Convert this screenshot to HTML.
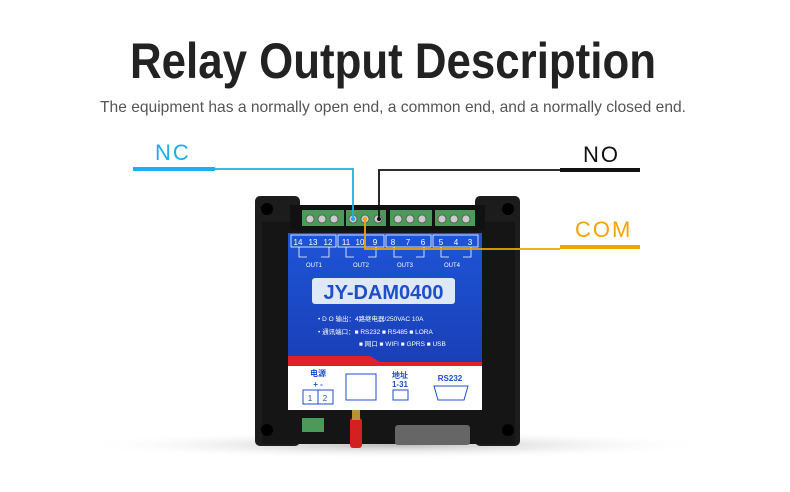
<!DOCTYPE html>
<html><head><meta charset="utf-8"><style>
html,body{margin:0;padding:0;background:#fff;width:790px;height:492px;overflow:hidden}
svg{display:block}
</style></head><body>
<svg width="790" height="492" viewBox="0 0 790 492" xmlns="http://www.w3.org/2000/svg" font-family="Liberation Sans, Noto Sans CJK SC, sans-serif">
<defs>
<radialGradient id="sh" cx="0.5" cy="0.5" r="0.5"><stop offset="0" stop-color="#bbb"/><stop offset="1" stop-color="#fff" stop-opacity="0"/></radialGradient>
<linearGradient id="bl" x1="0" y1="0" x2="0" y2="1"><stop offset="0" stop-color="#1e55d6"/><stop offset="1" stop-color="#1a3fb8"/></linearGradient>
</defs>
<text x="130" y="78" font-size="50" font-weight="bold" fill="#222" textLength="526" lengthAdjust="spacingAndGlyphs">Relay Output Description</text>
<text x="100" y="112" font-size="16" fill="#555" textLength="586" lengthAdjust="spacingAndGlyphs">The equipment has a normally open end, a common end, and a normally closed end.</text>

<ellipse cx="395" cy="445" rx="320" ry="14" fill="url(#sh)"/>
<!-- body -->
<rect x="255" y="196" width="45" height="250" rx="5" fill="#1c1c1c"/>
<rect x="475" y="196" width="45" height="250" rx="5" fill="#1c1c1c"/>
<rect x="262" y="222" width="253" height="222" fill="#151515"/>
<rect x="290" y="205" width="195" height="25" fill="#111"/>
<circle cx="267" cy="209" r="6" fill="#000"/><circle cx="508" cy="209" r="6" fill="#000"/>
<circle cx="267" cy="430" r="6" fill="#000"/><circle cx="508" cy="430" r="6" fill="#000"/>
<!-- terminal blocks -->
<g fill="#4a9a5a">
<rect x="302" y="210" width="42" height="16"/><rect x="346" y="210" width="40" height="16"/>
<rect x="390" y="210" width="42" height="16"/><rect x="435" y="210" width="40" height="16"/>
</g>
<g fill="#ccc" stroke="#555" stroke-width="0.8">
<circle cx="310" cy="219" r="4"/><circle cx="322" cy="219" r="4"/><circle cx="334" cy="219" r="4"/>
<circle cx="353" cy="219" r="4"/><circle cx="365" cy="219" r="4"/><circle cx="378" cy="219" r="4"/>
<circle cx="398" cy="219" r="4"/><circle cx="410" cy="219" r="4"/><circle cx="422" cy="219" r="4"/>
<circle cx="442" cy="219" r="4"/><circle cx="454" cy="219" r="4"/><circle cx="466" cy="219" r="4"/>
</g>
<!-- blue panel -->
<rect x="288" y="233" width="194" height="130" fill="url(#bl)"/>
<g fill="none" stroke="#fff" stroke-width="0.8">
<rect x="291" y="235" width="45" height="12"/><rect x="338" y="235" width="46" height="12"/>
<rect x="386" y="235" width="45" height="12"/><rect x="433" y="235" width="45" height="12"/>
<path d="M299 247v10h8M329 247v10h-8M346 247v10h8M376 247v10h-8M394 247v10h8M424 247v10h-8M441 247v10h8M471 247v10h-8"/>
</g>
<g fill="#fff" font-size="8" text-anchor="middle">
<text x="298" y="245">14</text><text x="313" y="245">13</text><text x="328" y="245">12</text>
<text x="346" y="245">11</text><text x="360" y="245">10</text><text x="375" y="245">9</text>
<text x="393" y="245">8</text><text x="408" y="245">7</text><text x="423" y="245">6</text>
<text x="441" y="245">5</text><text x="456" y="245">4</text><text x="470" y="245">3</text>
<text x="314" y="267" font-size="6">OUT1</text><text x="361" y="267" font-size="6">OUT2</text>
<text x="405" y="267" font-size="6">OUT3</text><text x="452" y="267" font-size="6">OUT4</text>
</g>
<rect x="312" y="278" width="143" height="26" rx="3" fill="#dfe8f7"/>
<text x="383.5" y="299" font-size="20" font-weight="bold" fill="#1e4fc8" text-anchor="middle">JY-DAM0400</text>
<g fill="#fff" font-size="6.5">
<text x="318" y="321">• D O 输出：4路继电器/250VAC 10A</text>
<text x="318" y="334">• 通讯端口：■ RS232 ■ RS485 ■ LORA</text>
<text x="359" y="346">■ 网口  ■ WIFI  ■ GPRS ■ USB</text>
</g>
<path d="M288 356 L370 356 L380 362 L482 362 L482 368 L288 368 Z" fill="#e0202a"/>
<rect x="288" y="366" width="194" height="44" fill="#fff"/>
<g font-size="8" fill="#1e4fc8" font-weight="bold" text-anchor="middle">
<text x="318" y="376">电源</text><text x="318" y="387">+  -</text>
<text x="400" y="378">地址</text><text x="400" y="387">1-31</text>
<text x="450" y="381">RS232</text>
</g>
<g fill="none" stroke="#1e4fc8" stroke-width="1">
<rect x="303" y="390" width="15" height="14"/><rect x="318" y="390" width="15" height="14"/>
<rect x="346" y="374" width="30" height="26"/>
<rect x="393" y="390" width="15" height="10"/>
<path d="M434 386h34l-4 14h-26z"/>
</g>
<text x="310" y="401" font-size="8" fill="#1e4fc8" text-anchor="middle">1</text>
<text x="325" y="401" font-size="8" fill="#1e4fc8" text-anchor="middle">2</text>
<!-- bottom connectors -->
<rect x="302" y="418" width="22" height="14" fill="#4a9a5a"/>
<rect x="395" y="425" width="75" height="20" rx="3" fill="#666"/>
<rect x="350" y="418" width="12" height="30" rx="3" fill="#d42020"/>
<rect x="352" y="410" width="8" height="10" fill="#b8903a"/>

<!-- NC -->
<text x="155" y="160" font-size="22" fill="#1ab0ea" letter-spacing="2">NC</text>
<rect x="133" y="167" width="82" height="4" fill="#1ab0ea"/>
<path d="M215 169 H353 V218" fill="none" stroke="#1ab0ea" stroke-width="1.8"/>
<!-- NO -->
<text x="583" y="162" font-size="22" fill="#111" letter-spacing="2">NO</text>
<rect x="560" y="168" width="80" height="4" fill="#111"/>
<path d="M560 170 H379 V218" fill="none" stroke="#111" stroke-width="1.8"/>
<!-- COM -->
<text x="575" y="237" font-size="22" fill="#f5a300" letter-spacing="2">COM</text>
<rect x="560" y="245" width="80" height="4" fill="#f5a300"/>
<path d="M365 219 V249 H560" fill="none" stroke="#f5a300" stroke-width="1.8"/>
<circle cx="353" cy="219" r="2" fill="#1ab0ea"/><circle cx="365" cy="219" r="2" fill="#f5a300"/><circle cx="379" cy="219" r="2" fill="#111"/>
</svg>
</body></html>
